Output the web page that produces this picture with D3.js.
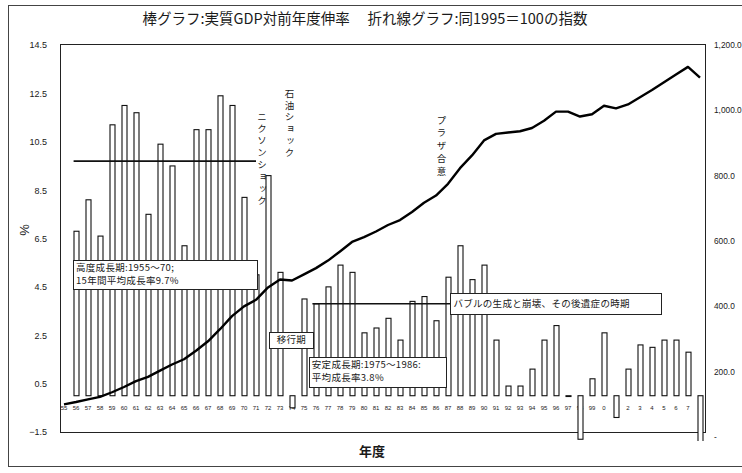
<!DOCTYPE html>
<html>
<head>
<meta charset="utf-8">
<script src="https://cdn.jsdelivr.net/npm/d3@7"></script>
<style>
  html, body { margin: 0; padding: 0; background: #fff; }
  svg { display: block; }
  text { fill: #1a1a1a; }
  .vert { writing-mode: vertical-rl; }
</style>
</head>
<body>
<svg id="chart" width="742" height="473"></svg>
<script>
// Fiscal years on the category axis
const fiscalYears = [1955, 1956, 1957, 1958, 1959, 1960, 1961, 1962, 1963, 1964,
  1965, 1966, 1967, 1968, 1969, 1970, 1971, 1972, 1973, 1974,
  1975, 1976, 1977, 1978, 1979, 1980, 1981, 1982, 1983, 1984,
  1985, 1986, 1987, 1988, 1989, 1990, 1991, 1992, 1993, 1994,
  1995, 1996, 1997, 1998, 1999, 2000, 2001, 2002, 2003, 2004,
  2005, 2006, 2007, 2008];

const yearLabels = ["55", "56", "57", "58", "59", "60", "61", "62", "63", "64",
  "65", "66", "67", "68", "69", "70", "71", "72", "73", "74",
  "75", "76", "77", "78", "79", "80", "81", "82", "83", "84",
  "85", "86", "87", "88", "89", "90", "91", "92", "93", "94",
  "95", "96", "97", "98", "99", "0", "1", "2", "3", "4",
  "5", "6", "7", "8"];

// Real GDP growth over the previous fiscal year (%), bars
const growthRate = [null, 6.8, 8.1, 6.6, 11.2, 12.0, 11.7, 7.5, 10.4, 9.5,
  6.2, 11.0, 11.0, 12.4, 12.0, 8.2, 5.0, 9.1, 5.1, -0.5,
  4.0, 3.8, 4.5, 5.4, 5.1, 2.6, 2.8, 3.2, 2.3, 3.9,
  4.1, 3.1, 4.9, 6.2, 4.8, 5.4, 2.3, 0.4, 0.4, 1.1,
  2.3, 2.9, 0.0, -1.8, 0.7, 2.6, -0.9, 1.1, 2.1, 2.0,
  2.3, 2.3, 1.8, -4.1];

// Real GDP index, line (right axis)
const gdpIndex = [100, 107, 115, 123, 137, 153, 171, 184, 203, 222,
  238, 264, 293, 330, 370, 400, 420, 458, 482, 479,
  498, 517, 540, 568, 597, 612, 629, 649, 664, 689,
  717, 739, 775, 823, 862, 908, 928, 932, 936, 946,
  968, 996, 996, 981, 988, 1014, 1006, 1018, 1040, 1062,
  1086, 1110, 1133, 1100];

const leftTicks = [14.5, 12.5, 10.5, 8.5, 6.5, 4.5, 2.5, 0.5, -1.5];
const rightTicks = [0, 200, 400, 600, 800, 1000, 1200];

// Period averages drawn as horizontal lines
const periodAverages = [
  { from: 1955.8, to: 1971, value: 9.7 },
  { from: 1975.7, to: 1987.2, value: 3.8 }
];

// Boxed notes: [year-left, year-right] and [value-top, value-bottom] on the left axis
const boxNotes = [
  { x0: 1955.75, x1: 1971.1, top: 5.6, bottom: 4.4, lines: ["高度成長期:1955～70;", "15年間平均成長率9.7%"] },
  { x0: 1972.1, x1: 1975.8, top: 2.65, bottom: 2.0, lines: ["移行期"] },
  { x0: 1975.4, x1: 1986.8, top: 1.6, bottom: 0.35, lines: ["安定成長期:1975～1986:", "平均成長率3.8%"] },
  { x0: 1987.2, x1: 2004.8, top: 4.25, bottom: 3.4, lines: ["バブルの生成と崩壊、その後遺症の時期"] }
];

// Vertical event labels
const eventNotes = [
  { year: 1971.5, top: 11.75, spacing: 2.5, text: "ニクソンショック" },
  { year: 1973.8, top: 12.7, spacing: 2.3, text: "石油ショック" },
  { year: 1986.45, top: 11.6, spacing: 3.4, text: "プラザ合意" }
];

const svg = d3.select("#chart");
const W = 742, H = 473;
const frame = { left: 60, right: 705, top: 44, bottom: 432 };

svg.append("rect").attr("width", W).attr("height", H).attr("fill", "#fff");

// outer border
svg.append("rect")
  .attr("x", 8.5).attr("y", 5.5).attr("width", 740).attr("height", 461)
  .attr("fill", "none").attr("stroke", "#444").attr("stroke-width", 1);

const x = d3.scaleLinear().domain([1955, 2008]).range([64, 700]);
const y = d3.scaleLinear().domain([-1.5, 14.5]).range([frame.bottom, frame.top + 1]);
const y2 = d3.scaleLinear().domain([0, 1200]).range([437, 45]);

// plot frame
svg.append("rect")
  .attr("x", frame.left + 0.5).attr("y", frame.top + 0.5)
  .attr("width", frame.right - frame.left).attr("height", frame.bottom - frame.top)
  .attr("fill", "none").attr("stroke", "#222").attr("stroke-width", 1);

// title
svg.append("text")
  .attr("x", 365).attr("y", 24)
  .attr("text-anchor", "middle")
  .attr("font-family", "'Noto Sans CJK JP', sans-serif")
  .attr("font-size", 14.5)
  .attr("font-weight", 400)
  .text("棒グラフ:実質GDP対前年度伸率　 折れ線グラフ:同1995＝100の指数");

// left axis
const leftAxis = svg.append("g")
  .attr("transform", `translate(${frame.left},0)`)
  .call(d3.axisLeft(y).tickValues(leftTicks).tickSize(0).tickPadding(13).tickFormat(d3.format(".1f")));
leftAxis.select(".domain").remove();
leftAxis.selectAll("text")
  .attr("font-family", "'Liberation Sans', Arial, sans-serif")
  .attr("font-size", 9).attr("fill", "#222");

// right axis
const rightFmt = d => d === 0 ? "-" : d3.format(",.1f")(d);
const rightAxis = svg.append("g")
  .attr("transform", `translate(${frame.right},0)`)
  .call(d3.axisRight(y2).tickValues(rightTicks).tickSize(0).tickPadding(9).tickFormat(rightFmt));
rightAxis.select(".domain").remove();
rightAxis.selectAll("text")
  .attr("font-family", "'Liberation Sans', Arial, sans-serif")
  .attr("font-size", 8.3).attr("fill", "#222");

// unit label
svg.append("text")
  .attr("transform", "translate(29,230) rotate(-90)")
  .attr("text-anchor", "middle")
  .attr("font-family", "'Liberation Sans', Arial, sans-serif")
  .attr("font-size", 13)
  .text("%");

// x axis title
svg.append("text")
  .attr("x", 372).attr("y", 456)
  .attr("text-anchor", "middle")
  .attr("font-family", "'Noto Sans CJK JP', sans-serif")
  .attr("font-size", 13).attr("font-weight", 700)
  .text("年度");

// category labels
svg.append("g").selectAll("text")
  .data(fiscalYears)
  .join("text")
  .attr("x", (d) => x(d))
  .attr("y", y(0) + 14)
  .attr("text-anchor", "middle")
  .attr("font-family", "'Liberation Sans', Arial, sans-serif")
  .attr("font-size", 6)
  .attr("fill", "#444")
  .text((d, i) => yearLabels[i]);

// bars, allowed to run slightly past the frame bottom
svg.append("clipPath").attr("id", "barClip")
  .append("rect").attr("x", frame.left).attr("y", frame.top)
  .attr("width", frame.right - frame.left + 2).attr("height", 441 - frame.top);

const barW = 5;
const barData = fiscalYears.map((yr, i) => ({ yr, v: growthRate[i] })).filter(d => d.v !== null);
svg.append("g").attr("clip-path", "url(#barClip)")
  .selectAll("rect")
  .data(barData)
  .join("rect")
  .attr("x", d => x(d.yr) - barW / 2 + 0.5)
  .attr("y", d => Math.min(y(d.v), y(0)))
  .attr("width", barW)
  .attr("height", d => Math.max(Math.abs(y(d.v) - y(0)), 0.8))
  .attr("fill", "#fff")
  .attr("stroke", "#111")
  .attr("stroke-width", 1.1);

// period average lines
svg.append("g").selectAll("line")
  .data(periodAverages)
  .join("line")
  .attr("x1", d => x(d.from)).attr("x2", d => x(d.to))
  .attr("y1", d => y(d.value)).attr("y2", d => y(d.value))
  .attr("stroke", "#111").attr("stroke-width", 1.6);

// index line
const line = d3.line()
  .x((d, i) => x(fiscalYears[i]))
  .y(d => y2(d));
svg.append("path")
  .datum(gdpIndex)
  .attr("d", line)
  .attr("fill", "none")
  .attr("stroke", "#000")
  .attr("stroke-width", 2.4)
  .attr("stroke-linejoin", "round");

// boxed notes
const notes = svg.append("g");
boxNotes.forEach(b => {
  const g = notes.append("g");
  const bx = x(b.x0), bw = x(b.x1) - x(b.x0);
  const by = y(b.top), bh = y(b.bottom) - y(b.top);
  g.append("rect")
    .attr("x", Math.round(bx) + 0.5).attr("y", Math.round(by) + 0.5)
    .attr("width", Math.round(bw)).attr("height", Math.round(bh))
    .attr("fill", "#fff").attr("stroke", "#222").attr("stroke-width", 1);
  const single = b.lines.length === 1;
  const centred = single && b.lines[0].length <= 3;
  b.lines.forEach((t, i) => {
    g.append("text")
      .attr("x", centred ? bx + bw / 2 : bx + 3)
      .attr("y", single ? by + bh / 2 + 3.6 : by + 10.5 + i * 13.5)
      .attr("text-anchor", centred ? "middle" : "start")
      .attr("font-family", "'Noto Sans CJK JP', sans-serif")
      .attr("font-size", 9.5)
      .attr("letter-spacing", 0.3)
      .text(t);
  });
});

// vertical event labels
svg.append("g").selectAll("text")
  .data(eventNotes)
  .join("text")
  .attr("class", "vert")
  .attr("x", d => x(d.year))
  .attr("y", d => y(d.top))
  .attr("font-family", "'Noto Sans CJK JP', sans-serif")
  .attr("font-size", 9.5)
  .attr("letter-spacing", d => d.spacing)
  .text(d => d.text);
</script>
</body>
</html>
